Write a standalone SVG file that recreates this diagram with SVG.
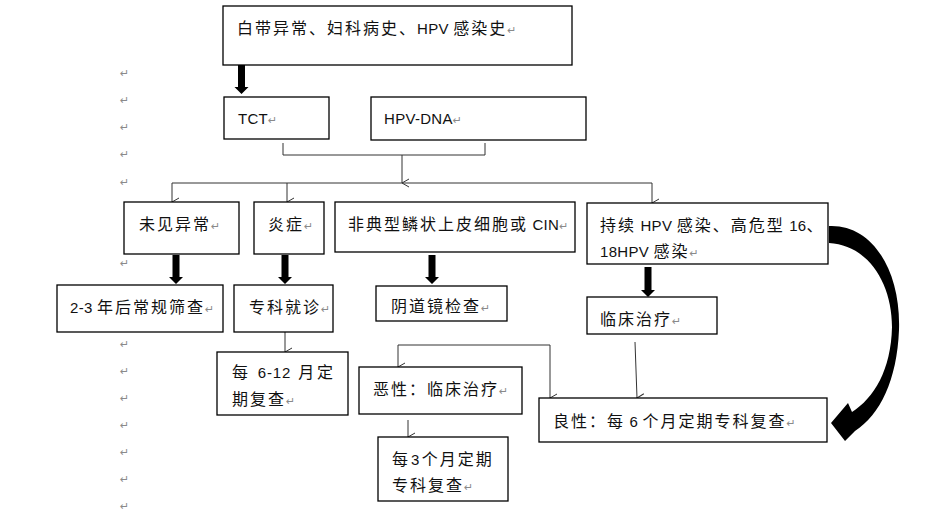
<svg xmlns="http://www.w3.org/2000/svg" width="933" height="513" viewBox="0 0 933 513">
<style>
.box{fill:#fff;stroke:#000;stroke-width:1.3}
.t{font-family:"Liberation Sans","Noto Sans CJK SC",sans-serif;font-size:16px;letter-spacing:2px;fill:#111}
.l{font-size:15px;letter-spacing:0.3px}
.p{font-family:"DejaVu Sans",sans-serif;font-size:11px;fill:#8a8a8a;letter-spacing:0}
.pm{font-family:"DejaVu Sans",sans-serif;font-size:11px;fill:#8a8a8a}
.ln{fill:none;stroke:#333;stroke-width:1}
.thick{fill:#000}
</style>
<defs>
<marker id="ah" markerUnits="userSpaceOnUse" markerWidth="10" markerHeight="10" refX="5" refY="8" orient="auto-start-reverse" viewBox="0 0 10 10">
<path d="M1,1 L5,8 L9,1" fill="none" stroke="#333" stroke-width="1"/>
</marker>
</defs>
<g id="para-marks">
<text class="pm" x="120" y="77">↵</text>
<text class="pm" x="120" y="104">↵</text>
<text class="pm" x="120" y="131">↵</text>
<text class="pm" x="120" y="158">↵</text>
<text class="pm" x="120" y="186">↵</text>
<text class="pm" x="120" y="267">↵</text>
<text class="pm" x="120" y="348">↵</text>
<text class="pm" x="120" y="375">↵</text>
<text class="pm" x="120" y="402">↵</text>
<text class="pm" x="120" y="429">↵</text>
<text class="pm" x="120" y="456">↵</text>
<text class="pm" x="120" y="483">↵</text>
<text class="pm" x="120" y="510">↵</text>
</g>
<g id="connectors">
<polygon class="thick" points="238,65 245,65 245,87 248.5,87 241.5,94 234.5,87 238,87"/>
<polygon class="thick" points="172.5,255 179.5,255 179.5,277 183,277 176,284 169,277 172.5,277"/>
<polygon class="thick" points="281.5,255 288.5,255 288.5,277 292,277 285,284 278,277 281.5,277"/>
<polygon class="thick" points="428.5,255 435.5,255 435.5,277 439,277 432,284 425,277 428.5,277"/>
<polygon class="thick" points="644.5,267 651.5,267 651.5,290 655,290 648,297 641,290 644.5,290"/>
<path class="thick" d="M 829 226 C 872 224, 901 270, 899 330 C 897 380, 880 415, 855 431 L 845 441 L 831 423 L 848 403 L 852 412 C 874 398, 891 370, 892 327 C 892 283, 868 245, 829 243 Z"/>
<polyline class="ln" points="283,143 283,155 485,155 485,143"/>
<line class="ln" x1="402" y1="155" x2="402" y2="183" marker-end="url(#ah)"/>
<line class="ln" x1="172" y1="183" x2="652" y2="183"/>
<line class="ln" x1="172" y1="183" x2="172" y2="202" marker-end="url(#ah)"/>
<line class="ln" x1="287" y1="183" x2="287" y2="202" marker-end="url(#ah)"/>
<line class="ln" x1="652" y1="183" x2="652" y2="203" marker-end="url(#ah)"/>
<line class="ln" x1="285" y1="332" x2="285" y2="352" marker-end="url(#ah)"/>
<polyline class="ln" points="398,367 398,345 550,345 550,398" marker-start="url(#ah)" marker-end="url(#ah)"/>
<line class="ln" x1="635" y1="342" x2="637" y2="398" marker-end="url(#ah)"/>
<line class="ln" x1="408" y1="420" x2="408" y2="437" marker-end="url(#ah)"/>
</g>
<g id="n-top">
<rect class="box" x="223" y="6" width="349" height="59"/>
<text class="t" x="237" y="34">白带异常、妇科病史、<tspan class="l">HPV </tspan>感染史<tspan class="p">↵</tspan></text>
</g>
<g id="n-tct">
<rect class="box" x="224" y="97" width="105" height="42"/>
<text class="t" x="238" y="124"><tspan class="l">TCT</tspan><tspan class="p">↵</tspan></text>
</g>
<g id="n-hpvdna">
<rect class="box" x="371" y="97" width="215" height="43"/>
<text class="t" x="384" y="124"><tspan class="l">HPV-DNA</tspan><tspan class="p">↵</tspan></text>
</g>
<g id="n-normal">
<rect class="box" x="124" y="202" width="115" height="52"/>
<text class="t" x="139" y="230">未见异常<tspan class="p">↵</tspan></text>
</g>
<g id="n-inflam">
<rect class="box" x="254" y="202" width="70" height="52"/>
<text class="t" x="268" y="230">炎症<tspan class="p">↵</tspan></text>
</g>
<g id="n-atyp">
<rect class="box" x="335" y="202" width="240" height="50"/>
<text class="t" x="348" y="230">非典型鳞状上皮细胞或<tspan class="l"> CIN</tspan><tspan class="p">↵</tspan></text>
</g>
<g id="n-persist">
<rect class="box" x="587" y="203" width="241" height="61"/>
<text class="t" x="600" y="231">持续<tspan class="l"> HPV </tspan>感染、高危型<tspan class="l"> 16</tspan>、</text>
<text class="t" x="600" y="257"><tspan class="l">18HPV </tspan>感染<tspan class="p">↵</tspan></text>
</g>
<g id="n-screen">
<rect class="box" x="57" y="285" width="166" height="47"/>
<text class="t" x="70" y="313"><tspan class="l">2-3 </tspan>年后常规筛查<tspan class="p">↵</tspan></text>
</g>
<g id="n-clinic">
<rect class="box" x="234" y="285" width="99" height="47"/>
<text class="t" x="249" y="313">专科就诊<tspan class="p">↵</tspan></text>
</g>
<g id="n-colpo">
<rect class="box" x="376" y="286" width="131" height="35"/>
<text class="t" x="391" y="312">阴道镜检查<tspan class="p">↵</tspan></text>
</g>
<g id="n-treat">
<rect class="box" x="587" y="297" width="130" height="37"/>
<text class="t" x="600" y="325">临床治疗<tspan class="p">↵</tspan></text>
</g>
<g id="n-6-12">
<rect class="box" x="217" y="352" width="131" height="63"/>
<text class="t" x="232" y="378" textLength="103" lengthAdjust="spacing">每 <tspan class="l">6-12</tspan> 月定</text>
<text class="t" x="232" y="405">期复查<tspan class="p">↵</tspan></text>
</g>
<g id="n-malig">
<rect class="box" x="359" y="367" width="163" height="47"/>
<text class="t" x="373" y="395">恶性：临床治疗<tspan class="p">↵</tspan></text>
</g>
<g id="n-3m">
<rect class="box" x="378" y="437" width="130" height="64"/>
<text class="t" x="392" y="465">每<tspan class="l" dx="1">3</tspan><tspan dx="2">个月定期</tspan></text>
<text class="t" x="392" y="491">专科复查<tspan class="p">↵</tspan></text>
</g>
<g id="n-benign">
<rect class="box" x="539" y="398" width="288" height="44"/>
<text class="t" x="553" y="427">良性：每<tspan class="l"> 6 </tspan>个月定期专科复查<tspan class="p">↵</tspan></text>
</g>
</svg>
